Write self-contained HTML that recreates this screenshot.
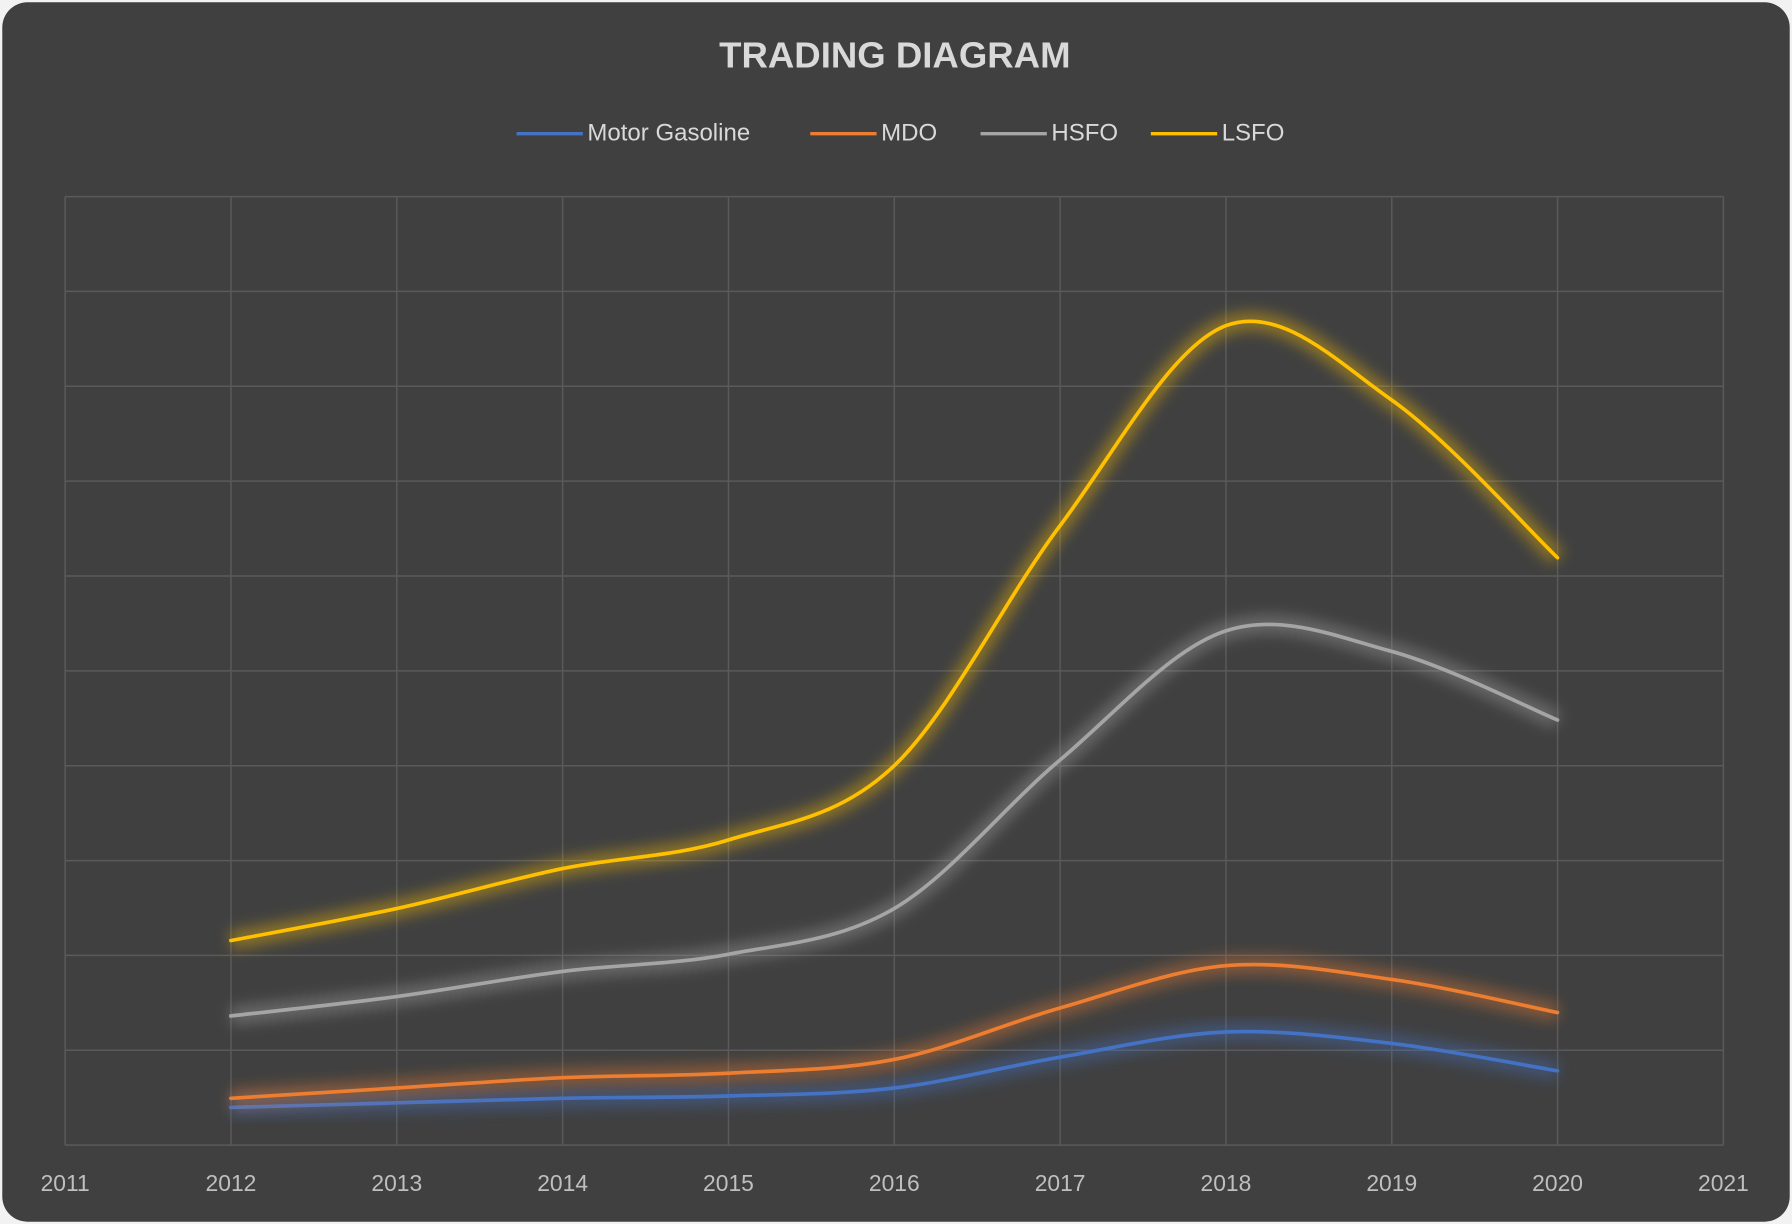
<!DOCTYPE html>
<html><head><meta charset="utf-8"><style>
html,body{margin:0;padding:0;background:#fff;}
svg{display:block;}
text{font-family:"Liberation Sans",sans-serif;}
</style></head><body>
<svg id="s" width="1792" height="1224" viewBox="0 0 1568 1071" xmlns="http://www.w3.org/2000/svg">
<defs>
<filter id="glow" x="-20%" y="-20%" width="140%" height="140%"><feGaussianBlur stdDeviation="6"/></filter>
</defs>
<rect x="0" y="0" width="1568" height="1071" fill="#f2f2f2"/>
<rect x="2" y="2" width="1564" height="1067" rx="22" fill="#404040"/>
<g id="grid" stroke="#5a5a5a" stroke-width="1.3"></g>
<text x="783" y="59" text-anchor="middle" font-size="32" font-weight="bold" fill="#d9d9d9">TRADING DIAGRAM</text>
<g font-size="21" fill="#d9d9d9">
<line x1="452" y1="117" x2="510" y2="117" stroke="#4472c4" stroke-width="3"/><text x="514" y="123">Motor Gasoline</text>
<line x1="709" y1="117" x2="767" y2="117" stroke="#ed7d31" stroke-width="3"/><text x="771" y="123">MDO</text>
<line x1="858" y1="117" x2="916" y2="117" stroke="#a5a5a5" stroke-width="3"/><text x="920" y="123">HSFO</text>
<line x1="1007" y1="117" x2="1065" y2="117" stroke="#ffc000" stroke-width="3"/><text x="1069" y="123">LSFO</text>
</g>
<g id="xl" font-size="20" fill="#bfbfbf" text-anchor="middle"></g>
<g id="lines"></g>
</svg>
<script>
var ns="http://www.w3.org/2000/svg";
function el(t,a,p){var e=document.createElementNS(ns,t);for(var k in a)e.setAttribute(k,a[k]);p.appendChild(e);return e;}
var g=document.getElementById('grid');
for(var i=0;i<=10;i++){var y=172+i*83;el('line',{x1:57,x2:1508,y1:y,y2:y},g);var x=57+i*145.1;el('line',{x1:x,x2:x,y1:172,y2:1002},g);
var t=el('text',{x:x,y:1042},document.getElementById('xl'));t.textContent=2011+i;}
var S=[["#4472c4",[969,965,961,959,952,925,903,913,937]],
["#ed7d31",[961,952,943,939,927,882,845,857,886]],
["#a5a5a5",[889,872,850,835,795,665,552,570,630]],
["#ffc000",[823,795,760,735,670,460,285,350,488]]];
var L=document.getElementById('lines');
S.forEach(function(s){var p=s[1].map(function(y,i){return [202+i*145.1,y];});
var d="M"+p[0][0]+","+p[0][1];
for(var i=0;i<p.length-1;i++){var p0=p[i-1]||p[i],p1=p[i],p2=p[i+1],p3=p[i+2]||p2;
var c1=[p1[0]+(p2[0]-p0[0])/6,p1[1]+(p2[1]-p0[1])/6],c2=[p2[0]-(p3[0]-p1[0])/6,p2[1]-(p3[1]-p1[1])/6];
d+=" C"+c1+" "+c2+" "+p2;}
el('path',{d:d,fill:"none",stroke:s[0],"stroke-width":16,"stroke-opacity":0.4,filter:"url(#glow)"},L);
el('path',{d:d,fill:"none",stroke:s[0],"stroke-width":3.2,"stroke-linecap":"round"},L);});
</script>
</body></html>
